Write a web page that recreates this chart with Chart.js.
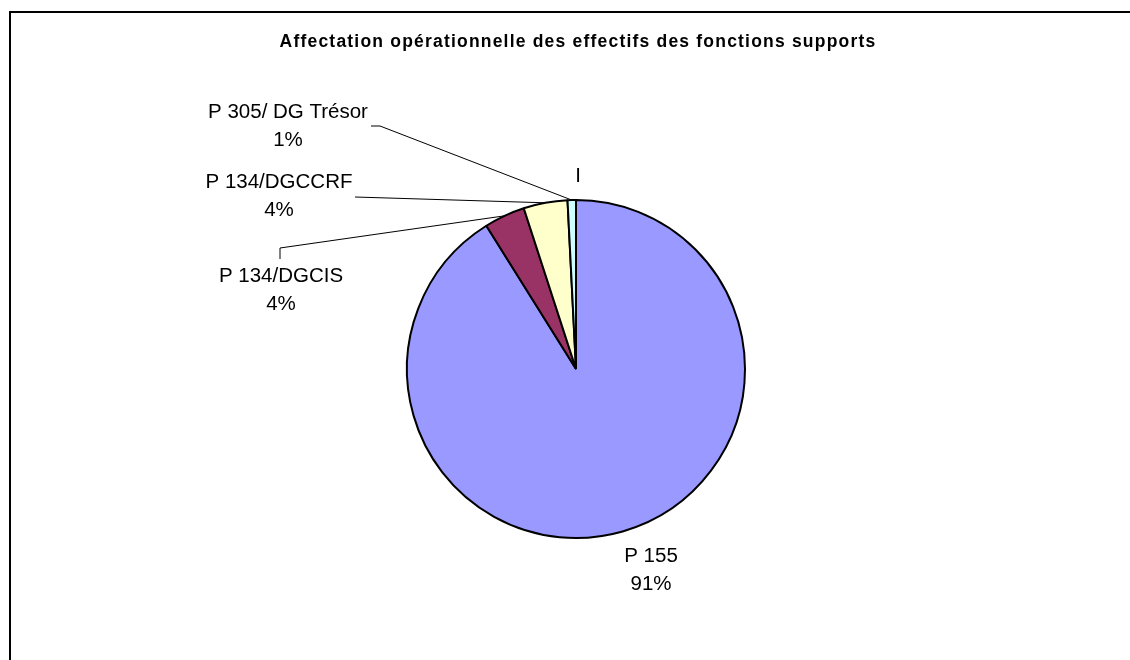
<!DOCTYPE html>
<html>
<head>
<meta charset="utf-8">
<script src="https://cdn.jsdelivr.net/npm/chart.js@4.4.0/dist/chart.umd.min.js"></script>
<style>
  body { margin: 0; background: #fff; }
  canvas { display: block; }
</style>
</head>
<body>
<canvas id="pieChart" width="1130" height="660"></canvas>
<script>
const chartTitle = "Affectation opérationnelle des effectifs des fonctions supports";
const categories = ["P 155", "P 134/DGCIS", "P 134/DGCCRF", "P 305/ DG Trésor", "I"];
const shares = [91.1, 3.9, 4.2, 0.8, 0];
const sliceColors = ["#9999FF", "#993366", "#FFFFCC", "#CCFFFF", "#FFFFFF"];

// label placement, relative to the pie centre (first baseline)
const labelOffsets = [
  { dx: 75, dy: 193 },
  { dx: -295, dy: -87 },
  { dx: -297, dy: -181 },
  { dx: -288, dy: -251 },
  { dx: 2, dy: -187 },
];
// leader line points, relative to the pie centre; they end on the arc
const leaderPoints = [
  null,
  [{ dx: -296, dy: -110 }, { dx: -296, dy: -121 }],
  [{ dx: -221, dy: -172 }],
  [{ dx: -205, dy: -243 }, { dx: -196, dy: -243 }],
  null,
];

const total = shares.reduce((sum, v) => sum + v, 0);

const labelsPlugin = {
  id: "excelLabels",
  afterDatasetsDraw(chart) {
    const ctx = chart.ctx;
    const meta = chart.getDatasetMeta(0);

    ctx.save();
    // frame
    ctx.strokeStyle = "#000";
    ctx.lineWidth = 2;
    ctx.strokeRect(10, 12, 1200, 700);

    // title
    ctx.fillStyle = "#000";
    ctx.font = "bold 17.5px 'Liberation Sans', Arial, sans-serif";
    ctx.letterSpacing = "1.2px";
    ctx.textAlign = "center";
    ctx.textBaseline = "alphabetic";
    ctx.fillText(chartTitle, 578, 47);

    meta.data.forEach((arc, i) => {
      const p = arc.getProps(["x", "y", "startAngle", "endAngle", "outerRadius"], true);
      const mid = (p.startAngle + p.endAngle) / 2;
      const ex = p.x + Math.cos(mid) * p.outerRadius;
      const ey = p.y + Math.sin(mid) * p.outerRadius;

      if (leaderPoints[i]) {
        ctx.strokeStyle = "#000";
        ctx.lineWidth = 1;
        ctx.beginPath();
        leaderPoints[i].forEach((pt, k) => {
          if (k === 0) ctx.moveTo(p.x + pt.dx, p.y + pt.dy);
          else ctx.lineTo(p.x + pt.dx, p.y + pt.dy);
        });
        ctx.lineTo(ex, ey);
        ctx.stroke();
      }

      const lx = p.x + labelOffsets[i].dx;
      const ly = p.y + labelOffsets[i].dy;
      ctx.fillStyle = "#000";
      ctx.font = "20.5px 'Liberation Sans', Arial, sans-serif";
      ctx.letterSpacing = "0px";
      ctx.fillText(categories[i], lx, ly);
      if (shares[i] > 0) {
        ctx.fillText(Math.round((shares[i] / total) * 100) + "%", lx, ly + 28);
      }
    });
    ctx.restore();
  },
};

new Chart(document.getElementById("pieChart"), {
  type: "pie",
  data: {
    labels: categories,
    datasets: [
      {
        data: shares,
        backgroundColor: sliceColors,
        borderColor: "#000",
        borderWidth: 2,
      },
    ],
  },
  options: {
    responsive: false,
    animation: false,
    devicePixelRatio: 1,
    layout: {
      padding: { top: 199, bottom: 121, left: 406, right: 384 },
    },
    plugins: {
      legend: { display: false },
      tooltip: { enabled: false },
      title: { display: false },
    },
  },
  plugins: [labelsPlugin],
});
</script>
</body>
</html>
